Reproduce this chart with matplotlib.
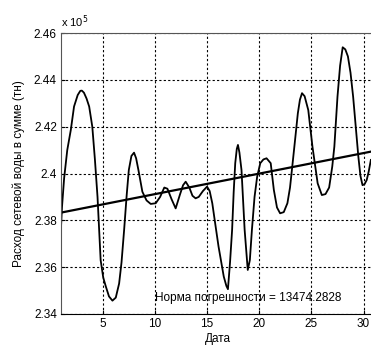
import numpy as np
import matplotlib.pyplot as plt

plt.rcParams['font.family'] = ['Liberation Sans', 'DejaVu Sans']

# curve (day, value in 1e5 tn)
day = [1.0, 1.1, 1.3, 1.6, 1.94, 2.25, 2.6, 2.85, 3.0, 3.2, 3.45, 3.7, 4.0, 4.25, 4.5,
       4.8, 5.05, 5.3, 5.6, 5.93, 6.25, 6.57, 6.8, 7.05, 7.3, 7.5, 7.75, 8.0, 8.2,
       8.42, 8.8, 9.2, 9.6, 10.08, 10.5, 10.9, 11.2, 11.6, 11.99, 12.4, 12.7, 12.95,
       13.3, 13.6, 13.9, 14.2, 14.6, 15.0, 15.25, 15.5, 15.8, 16.1, 16.6, 16.85, 17.0,
       17.2, 17.4, 17.55, 17.7, 17.85, 17.96, 18.1, 18.3, 18.6, 18.9, 19.1, 19.3,
       19.55, 19.8, 20.1, 20.4, 20.7, 21.1, 21.4, 21.7, 22.0, 22.35, 22.7, 22.95,
       23.2, 23.45, 23.7, 23.9, 24.1, 24.35, 24.7, 25.1, 25.6, 26.0, 26.35, 26.7,
       27.0, 27.2, 27.5, 27.75, 28.0, 28.25, 28.5, 28.75, 29.0, 29.25, 29.5, 29.7,
       29.9, 30.1, 30.3, 30.5, 30.7]
flow = [2.377, 2.386, 2.398, 2.410, 2.4186, 2.4286, 2.4335, 2.4353, 2.4354, 2.4345,
        2.4320, 2.4286, 2.420, 2.406, 2.390, 2.363, 2.3555, 2.3517, 2.3475, 2.3457,
        2.3470, 2.353, 2.362, 2.3759, 2.391, 2.4015, 2.4075, 2.4089, 2.4065, 2.4015,
        2.3922, 2.3885, 2.387, 2.3873, 2.390, 2.394, 2.3935, 2.389, 2.3851, 2.391,
        2.3950, 2.3965, 2.3940, 2.3905, 2.3894, 2.3900, 2.3925, 2.3944, 2.3925,
        2.3873, 2.378, 2.3688, 2.356, 2.352, 2.3506, 2.362, 2.3759, 2.392, 2.4044,
        2.4105, 2.4122, 2.409, 2.4015, 2.376, 2.3588, 2.363, 2.376, 2.390, 2.3986,
        2.4044, 2.4060, 2.4065, 2.4044, 2.393, 2.3855, 2.383, 2.3835, 2.3873, 2.394,
        2.4044, 2.415, 2.4257, 2.4315, 2.4343, 2.433, 2.4271, 2.4115, 2.3958, 2.3908,
        2.3912, 2.394, 2.403, 2.4115, 2.4328, 2.4460, 2.4539, 2.4530, 2.450, 2.443,
        2.4328, 2.420, 2.4072, 2.399, 2.395, 2.3955, 2.3972, 2.401, 2.4058]

# linear trend (ends)
trend_x = [1, 31]
trend_y = [2.3833, 2.4096]

norm_text = 'Норма погрешности = 13474.2828'

fig = plt.figure(figsize=(3.71, 3.47), dpi=100)
# axes runs a bit past the right edge, like the cropped original
ax = fig.add_axes([61/371, 33/347, 313/371, 281/347])

ax.plot(day, flow, color='black', lw=1.3)
ax.plot(trend_x, trend_y, color='black', lw=1.6)

ax.set_xlim(1, 31)
ax.set_ylim(2.34, 2.46)
ax.set_xticks([5, 10, 15, 20, 25, 30])
ax.set_yticks([2.34, 2.36, 2.38, 2.40, 2.42, 2.44, 2.46])
ax.set_yticklabels(['2.34', '2.36', '2.38', '2.4', '2.42', '2.44', '2.46'])
ax.tick_params(direction='in', labelsize=8.5, length=3, pad=3)
ax.grid(True, color='black', linestyle=(0, (2, 2)), lw=0.8)
for s in ['top', 'left', 'right']:
    ax.spines[s].set_color('#555555')
ax.spines['bottom'].set_color('black')

ax.text(10, 2.3469, norm_text, fontsize=8.5, va='center', ha='left')
ax.text(0.0, 1.012, 'x 10$^5$', transform=ax.transAxes, fontsize=8, va='bottom', ha='left')

ax.set_xlabel('Дата', fontsize=8.5, labelpad=2)
ax.set_ylabel('Расход сетевой воды в сумме (тн)', fontsize=8.5, labelpad=6)

fig.savefig('out.png', dpi=100)
